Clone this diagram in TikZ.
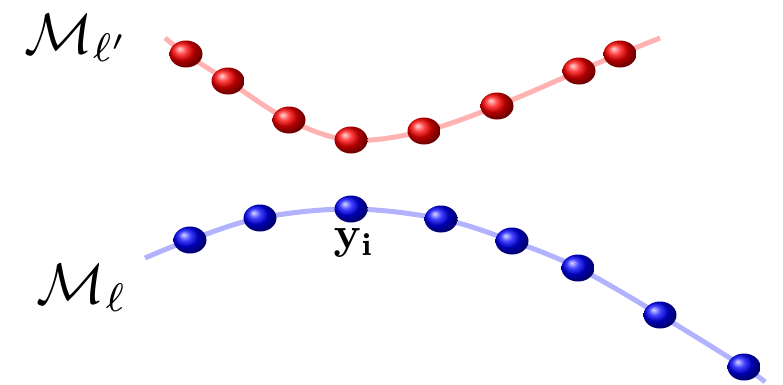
\documentclass[tikz,border=0pt]{standalone}
\usepackage{graphicx}
\usetikzlibrary{shadings,shapes.geometric}
\begin{document}
\begin{tikzpicture}[x=1pt,y=-1pt,
  redball/.style={ellipse,minimum width=33pt,minimum height=27pt,inner sep=0pt,shading=ball,ball color=red},
  blueball/.style={ellipse,minimum width=33pt,minimum height=27pt,inner sep=0pt,shading=ball,ball color=blue},
  redline/.style={draw=red!30,line width=5pt},
  blueline/.style={draw=blue!30,line width=5pt},
  lbl/.style={inner sep=0pt}]
\useasboundingbox (0,0) rectangle (783,384);
\draw[redline] plot[smooth,tension=0.6] coordinates {(165,38) (186,54) (228,81) (289,120) (351,140) (424,131) (497,106) (579,71) (620,54) (660,38)};
\draw[blueline] plot[smooth,tension=0.6] coordinates {(145,258) (190,240) (260,218) (351,209) (441,219) (512,241) (578,268) (660,315) (744,367) (765,382)};
\foreach \n/\p in {r1/{(186,54)},r2/{(228,81)},r3/{(289,120)},r4/{(351,140)},r5/{(424,131)},r6/{(497,106)},r7/{(579,71)},r8/{(620,54)}}
  \node[redball] (\n) at \p {};
\foreach \n/\p in {b1/{(190,240)},b2/{(260,218)},b3/{(351,209)},b4/{(441,219)},b5/{(512,241)},b6/{(578,268)},b7/{(660,315)},b8/{(744,367)}}
  \node[blueball] (\n) at \p {};
\node[lbl] (ml2) at (77,38) {\scalebox{5.7}{$\mathcal{M}_{\ell'}$}};
\node[lbl] (ml) at (82,288) {\scalebox{5.7}{$\mathcal{M}_{\ell}$}};
\node[lbl] (yi) at (354,243) {\scalebox{4.5}{$\mathbf{y_i}$}};
\end{tikzpicture}
\end{document}
